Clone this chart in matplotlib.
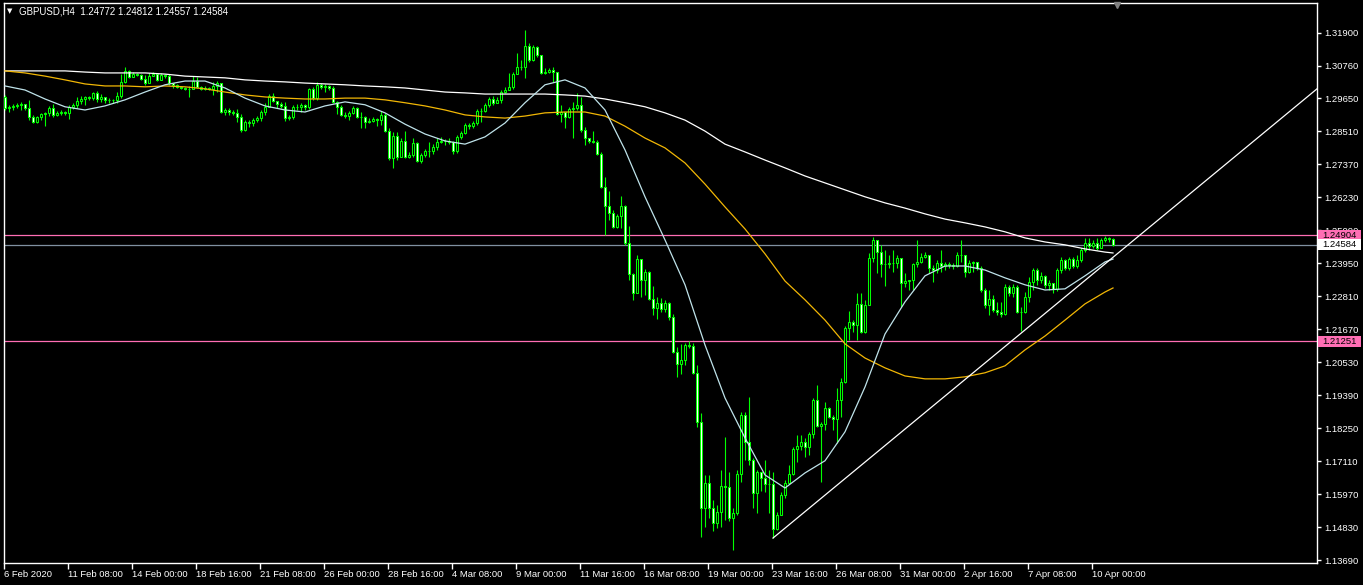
import numpy as np
import matplotlib.pyplot as plt
from matplotlib.patches import Rectangle
from matplotlib.transforms import blended_transform_factory

# ---- data (GBPUSD H4) ----
header = "GBPUSD,H4  1.24772 1.24812 1.24557 1.24584"

first_open = 1.2969
close = [1.2931, 1.2935, 1.2938, 1.2942, 1.2945, 1.2931, 1.2900, 1.2882, 1.2900, 1.2910,
         1.2914, 1.2931, 1.2907, 1.2914, 1.2917, 1.2914, 1.2935, 1.2942, 1.2955, 1.2962,
         1.2969, 1.2965, 1.2983, 1.2962, 1.2969, 1.2959, 1.2959, 1.2959, 1.2972, 1.3021,
         1.3059, 1.3038, 1.3048, 1.3045, 1.3031, 1.3017, 1.3041, 1.3048, 1.3028, 1.3045,
         1.3041, 1.3017, 1.3011, 1.3004, 1.3000, 1.2997, 1.2997, 1.3024, 1.3004, 1.2997,
         1.3000, 1.2997, 1.3007, 1.3017, 1.2917, 1.2924, 1.2917, 1.2914, 1.2900, 1.2855,
         1.2882, 1.2879, 1.2889, 1.2896, 1.2917, 1.2935, 1.2972, 1.2955, 1.2945, 1.2938,
         1.2896, 1.2900, 1.2935, 1.2935, 1.2942, 1.2935, 1.2997, 1.2965, 1.3011, 1.3004,
         1.3007, 1.3000, 1.2952, 1.2935, 1.2907, 1.2903, 1.2914, 1.2931, 1.2900, 1.2900,
         1.2882, 1.2886, 1.2893, 1.2889, 1.2907, 1.2851, 1.2758, 1.2834, 1.2762, 1.2817,
         1.2762, 1.2769, 1.2810, 1.2748, 1.2769, 1.2782, 1.2782, 1.2796, 1.2814, 1.2817,
         1.2817, 1.2814, 1.2782, 1.2831, 1.2845, 1.2872, 1.2868, 1.2879, 1.2921, 1.2921,
         1.2942, 1.2962, 1.2949, 1.2959, 1.2986, 1.2993, 1.3004, 1.3048, 1.3073, 1.3073,
         1.3145, 1.3097, 1.3142, 1.3114, 1.3052, 1.3055, 1.3062, 1.3055, 1.2910, 1.2917,
         1.2900, 1.2928, 1.2931, 1.2942, 1.2855, 1.2827, 1.2817, 1.2814, 1.2772, 1.2658,
         1.2592, 1.2568, 1.2520, 1.2558, 1.2592, 1.2465, 1.2358, 1.2292, 1.2409, 1.2337,
         1.2365, 1.2271, 1.2240, 1.2257, 1.2237, 1.2257, 1.2209, 1.2088, 1.2047, 1.2060,
         1.2112, 1.2109, 1.2016, 1.1846, 1.1550, 1.1636, 1.1550, 1.1498, 1.1535, 1.1625,
         1.1622, 1.1515, 1.1532, 1.1667, 1.1870, 1.1777, 1.1715, 1.1601, 1.1674, 1.1653,
         1.1632, 1.1632, 1.1477, 1.1525, 1.1594, 1.1636, 1.1667, 1.1753, 1.1763, 1.1777,
         1.1760, 1.1805, 1.1922, 1.1832, 1.1839, 1.1895, 1.1864, 1.1857, 1.1922, 1.1984,
         1.2171, 1.2192, 1.2181, 1.2254, 1.2157, 1.2251, 1.2413, 1.2475, 1.2433, 1.2392,
         1.2392, 1.2396, 1.2396, 1.2413, 1.2327, 1.2333, 1.2337, 1.2392, 1.2399, 1.2416,
         1.2423, 1.2378, 1.2371, 1.2396, 1.2385, 1.2392, 1.2389, 1.2385, 1.2423, 1.2423,
         1.2365, 1.2396, 1.2399, 1.2378, 1.2302, 1.2251, 1.2271, 1.2233, 1.2226, 1.2219,
         1.2313, 1.2292, 1.2313, 1.2226, 1.2226, 1.2278, 1.2330, 1.2371, 1.2337, 1.2351,
         1.2320, 1.2327, 1.2306, 1.2371, 1.2406, 1.2378, 1.2409, 1.2385, 1.2406, 1.2440,
         1.2465, 1.2454, 1.2465, 1.2447, 1.2475, 1.2482, 1.24772, 1.24584]
high = [1.2976, 1.2942, 1.2945, 1.2949, 1.2952, 1.2945, 1.2959, 1.2907, 1.2903, 1.2914,
        1.2917, 1.2938, 1.2945, 1.2921, 1.2924, 1.2921, 1.2942, 1.2949, 1.2969, 1.2972,
        1.2972, 1.2972, 1.2986, 1.2990, 1.2979, 1.2969, 1.2965, 1.2962, 1.2986, 1.3048,
        1.3073, 1.3062, 1.3055, 1.3052, 1.3048, 1.3045, 1.3052, 1.3055, 1.3048, 1.3052,
        1.3048, 1.3048, 1.3017, 1.3014, 1.3007, 1.3004, 1.3007, 1.3041, 1.3038, 1.3007,
        1.3007, 1.3004, 1.3021, 1.3024, 1.2983, 1.2931, 1.2931, 1.2924, 1.2928, 1.2910,
        1.2889, 1.2889, 1.2896, 1.2903, 1.2924, 1.2949, 1.2979, 1.2983, 1.2955, 1.2952,
        1.2952, 1.2907, 1.2942, 1.2945, 1.2949, 1.2945, 1.3000, 1.3004, 1.3021, 1.3017,
        1.3014, 1.3011, 1.3007, 1.2955, 1.2942, 1.2917, 1.2921, 1.2938, 1.2935, 1.2917,
        1.2903, 1.2896, 1.2900, 1.2896, 1.2921, 1.2914, 1.2862, 1.2848, 1.2848, 1.2827,
        1.2851, 1.2779, 1.2827, 1.2814, 1.2776, 1.2789, 1.2814, 1.2806, 1.2827, 1.2831,
        1.2824, 1.2827, 1.2817, 1.2838, 1.2851, 1.2879, 1.2879, 1.2886, 1.2928, 1.2931,
        1.2949, 1.2969, 1.2972, 1.2969, 1.2993, 1.3004, 1.3052, 1.3055, 1.3121, 1.3097,
        1.3200, 1.3156, 1.3149, 1.3145, 1.3097, 1.3069, 1.3069, 1.3073, 1.3031, 1.2942,
        1.2907, 1.2935, 1.2952, 1.2983, 1.2969, 1.2865, 1.2827, 1.2851, 1.2820, 1.2779,
        1.2693, 1.2644, 1.2578, 1.2565, 1.2627, 1.2596, 1.2523, 1.2361, 1.2423, 1.2361,
        1.2375, 1.2368, 1.2316, 1.2278, 1.2275, 1.2268, 1.2261, 1.2219, 1.2105, 1.2116,
        1.2119, 1.2126, 1.2119, 1.2043, 1.1877, 1.1663, 1.1663, 1.1577, 1.1560, 1.1680,
        1.1794, 1.1674, 1.1549, 1.1680, 1.1881, 1.1881, 1.1933, 1.1722, 1.1680, 1.1663,
        1.1715, 1.1680, 1.1674, 1.1535, 1.1604, 1.1646, 1.1698, 1.1760, 1.1801, 1.1801,
        1.1791, 1.1812, 1.1929, 1.1974, 1.1846, 1.1915, 1.1898, 1.1870, 1.1964, 1.1998,
        1.2178, 1.2230, 1.2198, 1.2292, 1.2292, 1.2268, 1.2430, 1.2485, 1.2468, 1.2458,
        1.2440, 1.2423, 1.2440, 1.2423, 1.2409, 1.2361, 1.2337, 1.2396, 1.2475, 1.2430,
        1.2433, 1.2423, 1.2389, 1.2406, 1.2440, 1.2399, 1.2399, 1.2396, 1.2433, 1.2475,
        1.2413, 1.2406, 1.2402, 1.2389, 1.2385, 1.2309, 1.2302, 1.2285, 1.2261, 1.2261,
        1.2323, 1.2320, 1.2323, 1.2320, 1.2244, 1.2295, 1.2347, 1.2378, 1.2378, 1.2365,
        1.2354, 1.2337, 1.2327, 1.2378, 1.2416, 1.2409, 1.2416, 1.2416, 1.2423, 1.2447,
        1.2482, 1.2482, 1.2475, 1.2482, 1.2482, 1.2489, 1.2485, 1.24812]
low = [1.2924, 1.2917, 1.2924, 1.2931, 1.2924, 1.2924, 1.2889, 1.2879, 1.2879, 1.2889,
       1.2868, 1.2903, 1.2900, 1.2903, 1.2907, 1.2907, 1.2893, 1.2928, 1.2931, 1.2945,
       1.2942, 1.2959, 1.2959, 1.2952, 1.2952, 1.2949, 1.2949, 1.2949, 1.2949, 1.2965,
       1.3017, 1.3035, 1.3038, 1.3041, 1.3028, 1.3011, 1.3021, 1.3041, 1.3024, 1.3038,
       1.3035, 1.3011, 1.3000, 1.3000, 1.2997, 1.2993, 1.2969, 1.2997, 1.3000, 1.2993,
       1.2993, 1.2993, 1.2976, 1.2986, 1.2914, 1.2907, 1.2907, 1.2907, 1.2882, 1.2848,
       1.2851, 1.2865, 1.2868, 1.2882, 1.2886, 1.2907, 1.2949, 1.2952, 1.2931, 1.2931,
       1.2886, 1.2889, 1.2893, 1.2924, 1.2917, 1.2924, 1.2928, 1.2959, 1.2959, 1.2997,
       1.2986, 1.2993, 1.2949, 1.2910, 1.2903, 1.2896, 1.2889, 1.2910, 1.2896, 1.2862,
       1.2862, 1.2879, 1.2882, 1.2868, 1.2872, 1.2848, 1.2751, 1.2724, 1.2751, 1.2810,
       1.2758, 1.2758, 1.2762, 1.2744, 1.2741, 1.2762, 1.2762, 1.2772, 1.2786, 1.2810,
       1.2803, 1.2806, 1.2772, 1.2776, 1.2824, 1.2841, 1.2858, 1.2862, 1.2872, 1.2882,
       1.2917, 1.2935, 1.2942, 1.2949, 1.2949, 1.2983, 1.2993, 1.2997, 1.3062, 1.3062,
       1.3035, 1.3090, 1.3093, 1.3107, 1.3048, 1.3048, 1.3052, 1.3021, 1.2907, 1.2882,
       1.2862, 1.2896, 1.2827, 1.2924, 1.2848, 1.2803, 1.2810, 1.2810, 1.2769, 1.2655,
       1.2492, 1.2544, 1.2516, 1.2516, 1.2516, 1.2458, 1.2337, 1.2268, 1.2313, 1.2278,
       1.2285, 1.2268, 1.2216, 1.2202, 1.2226, 1.2226, 1.2198, 1.2084, 1.2002, 1.2012,
       1.2043, 1.2102, 1.2012, 1.1829, 1.1449, 1.1484, 1.1515, 1.1470, 1.1480, 1.1484,
       1.1508, 1.1505, 1.1404, 1.1525, 1.1639, 1.1715, 1.1698, 1.1549, 1.1532, 1.1608,
       1.1604, 1.1532, 1.1445, 1.1473, 1.1529, 1.1584, 1.1632, 1.1663, 1.1708, 1.1749,
       1.1725, 1.1732, 1.1791, 1.1829, 1.1639, 1.1818, 1.1860, 1.1818, 1.1774, 1.1864,
       1.1981, 1.2129, 1.2157, 1.2129, 1.2154, 1.2154, 1.2319, 1.2399, 1.2361, 1.2347,
       1.2316, 1.2378, 1.2365, 1.2378, 1.2244, 1.2313, 1.2302, 1.2302, 1.2382, 1.2396,
       1.2413, 1.2361, 1.2330, 1.2361, 1.2365, 1.2371, 1.2378, 1.2375, 1.2382, 1.2399,
       1.2347, 1.2361, 1.2365, 1.2371, 1.2295, 1.2240, 1.2216, 1.2226, 1.2216, 1.2209,
       1.2216, 1.2282, 1.2278, 1.2223, 1.2161, 1.2223, 1.2261, 1.2302, 1.2320, 1.2327,
       1.2309, 1.2302, 1.2292, 1.2299, 1.2361, 1.2371, 1.2371, 1.2378, 1.2378, 1.2399,
       1.2433, 1.2440, 1.2447, 1.2440, 1.2458, 1.2468, 1.2468, 1.24557]

# moving averages, sampled every 5 bars (last sample = last bar)
ma_bars = list(range(0, 276, 5)) + [277]
ma_slow = [1.3059, 1.3059, 1.3059, 1.3059, 1.3055, 1.3052, 1.3052, 1.3052, 1.3048, 1.3041,
           1.3038, 1.3035, 1.3028, 1.3024, 1.3021, 1.3017, 1.3014, 1.3011, 1.3007, 1.3004,
           1.3000, 1.2993, 1.2986, 1.2983, 1.2979, 1.2979, 1.2979, 1.2979, 1.2976, 1.2972,
           1.2962, 1.2949, 1.2935, 1.2914, 1.2889, 1.2851, 1.2806, 1.2779, 1.2751, 1.2724,
           1.2696, 1.2672, 1.2648, 1.2624, 1.2603, 1.2585, 1.2565, 1.2547, 1.2534, 1.2520,
           1.2503, 1.2482, 1.2468, 1.2458, 1.2444, 1.2433, 1.2430]
ma_mid = [1.3059, 1.3052, 1.3041, 1.3028, 1.3014, 1.3007, 1.3007, 1.3004, 1.3007, 1.3004,
          1.2997, 1.2986, 1.2976, 1.2969, 1.2965, 1.2962, 1.2962, 1.2965, 1.2965, 1.2959,
          1.2949, 1.2938, 1.2924, 1.2907, 1.2900, 1.2896, 1.2903, 1.2914, 1.2917, 1.2917,
          1.2903, 1.2868, 1.2827, 1.2793, 1.2741, 1.2668, 1.2589, 1.2513, 1.2427, 1.2333,
          1.2268, 1.2198, 1.2116, 1.2067, 1.2033, 1.2005, 1.1995, 1.1995, 1.2002, 1.2016,
          1.2040, 1.2095, 1.2143, 1.2198, 1.2254, 1.2295, 1.2309]
ma_fast = [1.3007, 1.2993, 1.2962, 1.2935, 1.2924, 1.2938, 1.2959, 1.2986, 1.3011, 1.3024,
           1.3024, 1.3000, 1.2965, 1.2938, 1.2924, 1.2917, 1.2938, 1.2952, 1.2942, 1.2914,
           1.2875, 1.2841, 1.2817, 1.2806, 1.2831, 1.2879, 1.2949, 1.3011, 1.3028, 1.3000,
           1.2924, 1.2786, 1.2624, 1.2475, 1.2320, 1.2112, 1.1929, 1.1791, 1.1663, 1.1618,
           1.1670, 1.1712, 1.1812, 1.1967, 1.2150, 1.2261, 1.2351, 1.2385, 1.2385, 1.2371,
           1.2344, 1.2320, 1.2302, 1.2306, 1.2351, 1.2399, 1.2409]

level_hi = 1.24904
level_lo = 1.21251
bid = 1.24584
trend_a = (192, 1.1445)
trend_b = (277, 1.2415)

price_ticks = [1.31900, 1.30760, 1.29650, 1.28510, 1.27370, 1.26230, 1.25090, 1.23950,
               1.22810, 1.21670, 1.20530, 1.19390, 1.18250, 1.17110, 1.15970, 1.14830, 1.13690]
time_labels = ["6 Feb 2020", "11 Feb 08:00", "14 Feb 00:00", "18 Feb 16:00", "21 Feb 08:00",
               "26 Feb 00:00", "28 Feb 16:00", "4 Mar 08:00", "9 Mar 00:00", "11 Mar 16:00",
               "16 Mar 08:00", "19 Mar 00:00", "23 Mar 16:00", "26 Mar 08:00", "31 Mar 00:00",
               "2 Apr 16:00", "7 Apr 08:00", "10 Apr 00:00"]

# ---- figure ----
W, H = 1363, 585
plt.rcParams['font.family'] = ['Liberation Sans', 'DejaVu Sans']
fig = plt.figure(figsize=(W / 100, H / 100), dpi=100, facecolor='black')
ax = fig.add_axes([4 / W, 22 / H, 1313 / W, 560 / H], facecolor='black')

n = len(close)
x = np.arange(n)
c = np.array(close)
o = np.array([first_open] + close[:-1])
hi = np.array(high)
lo = np.array(low)

green = '#00ff00'
ax.vlines(x, lo, hi, color=green, lw=0.8, zorder=3)
bull = c >= o
bottom = np.minimum(o, c)
height = np.abs(c - o)
ax.bar(x, height, 0.5, bottom=bottom, color=np.where(bull, 'black', 'white'),
       edgecolor=green, linewidth=0.75, zorder=4)

# moving averages
ax.plot(ma_bars, ma_slow, color='white', lw=0.9, zorder=5)
ax.plot(ma_bars, ma_mid, color='#f2b705', lw=0.9, zorder=5)
ax.plot(ma_bars, ma_fast, color='#bfe3ea', lw=0.9, zorder=5)

# horizontal levels and bid line
ax.axhline(level_hi, color='#ff6eb4', lw=0.9, zorder=2)
ax.axhline(level_lo, color='#ff6eb4', lw=0.9, zorder=2)
ax.axhline(bid, color='#8090a0', lw=0.9, zorder=2)

# trend line (ray to the right)
xr = 328
slope = (trend_b[1] - trend_a[1]) / (trend_b[0] - trend_a[0])
ax.plot([trend_a[0], xr], [trend_a[1], trend_a[1] + slope * (xr - trend_a[0])],
        color='white', lw=0.9, zorder=6)

ax.set_xlim(-0.25, xr)
ax.set_ylim(1.13588, 1.32936)

# axes styling
for s in ax.spines.values():
    s.set_color('white')
    s.set_linewidth(1.0)
ax.yaxis.tick_right()
ax.set_yticks(price_ticks)
ax.set_yticklabels([f"{p:.5f}" for p in price_ticks])
ax.tick_params(axis='y', colors='white', labelcolor='white', labelsize=6.8,
               length=3, width=1, direction='out', pad=2)
ax.set_xticks(np.arange(len(time_labels)) * 16 - 0.25)
ax.set_xticklabels(time_labels)
ax.tick_params(axis='x', colors='white', labelcolor='white', labelsize=6.8,
               length=4, width=1, direction='out', pad=1)
for lbl in ax.get_xticklabels():
    lbl.set_ha('left')

# price tags on the right (boxes cover the axis labels beneath)
tr = blended_transform_factory(fig.transFigure, ax.transData)
tag_h = 11 * (1.32936 - 1.13588) / 560
for val, bg in [(level_hi, '#ff6eb4'), (bid, 'white'), (level_lo, '#ff6eb4')]:
    fig.add_artist(Rectangle((1318 / W, val - tag_h / 2), 43 / W, tag_h, transform=tr,
                             facecolor=bg, edgecolor='none', zorder=9))
    fig.text(1339.5 / W, val, f"{val:.5f}", transform=tr, color='black', fontsize=6.8,
             va='center', ha='center', zorder=10)

# chart shift marker
ax.plot([278], [1.3285], marker='v', color='#808080', markersize=5, clip_on=False, zorder=7)

# header
fig.text(7 / W, 1 - 11 / H, "\u25bc", color='white', fontsize=5, va='center',
         family='DejaVu Sans')
fig.text(19 / W, 1 - 11 / H, header, color='white', fontsize=7, va='center')

fig.savefig('out.png', dpi=100, facecolor='black')
